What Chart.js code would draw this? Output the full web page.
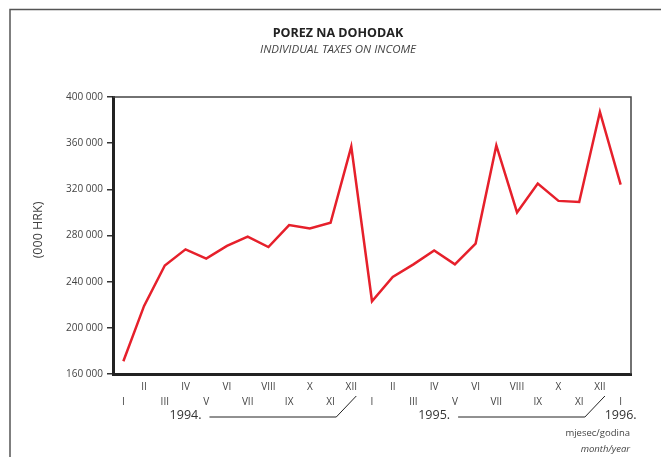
<!DOCTYPE html>
<html><head><meta charset="utf-8">
<script src="https://cdn.jsdelivr.net/npm/chart.js@4/dist/chart.umd.min.js"></script>
<style>html,body{margin:0;padding:0;background:#fff}#wrap{width:661px;height:457px;position:relative}</style>
</head><body><div id="wrap"><canvas id="c" width="661" height="457"></canvas></div>
<script>
// ---- data ----
const months = ['I','II','III','IV','V','VI','VII','VIII','IX','X','XI','XII',
                'I','II','III','IV','V','VI','VII','VIII','IX','X','XI','XII','I'];
const values = [171000, 219000, 254000, 268000, 260000, 271000, 279000, 270000, 289000, 286000, 291000, 357000,
                223000, 244000, 255000, 267000, 255000, 273000, 358000, 300000, 325000, 310000, 309000, 387000, 324000];
const years = ['1994.', '1995.', '1996.'];
const yTicks = [160000, 200000, 240000, 280000, 320000, 360000, 400000];
const titleMain = 'POREZ NA DOHODAK';
const titleSub = 'INDIVIDUAL TAXES ON INCOME';
const yTitle = '(000 HRK)';
const xTitleMain = 'mjesec/godina';
const xTitleSub = 'month/year';

const FONT = '"Open Sans", "Liberation Sans", sans-serif';

const fmt = v => String(v).replace(/\B(?=(\d{3})+(?!\d))/g, ' ');

const decor = {
  id: 'decor',
  afterDraw(chart) {
    const ctx = chart.ctx, a = chart.chartArea, xs = chart.scales.x;
    ctx.save();
    // outer frame
    ctx.strokeStyle = '#555'; ctx.lineWidth = 1.5;
    ctx.beginPath(); ctx.moveTo(10, 457); ctx.lineTo(10, 9.5); ctx.lineTo(661, 9.5); ctx.stroke();
    // plot frame top/right
    ctx.strokeStyle = '#444'; ctx.lineWidth = 1.5;
    ctx.beginPath(); ctx.moveTo(a.left, a.top); ctx.lineTo(a.right, a.top); ctx.lineTo(a.right, a.bottom); ctx.stroke();
    // titles
    ctx.fillStyle = '#222'; ctx.textAlign = 'center'; ctx.textBaseline = 'middle';
    ctx.font = 'bold 12.5px ' + FONT;
    ctx.fillText(titleMain, 338, 33);
    ctx.fillStyle = '#444';
    ctx.font = 'italic 11.5px ' + FONT;
    ctx.fillText(titleSub, 338, 50);
    // y title
    ctx.save();
    ctx.translate(38, 230); ctx.rotate(-Math.PI / 2);
    ctx.font = '12.5px ' + FONT; ctx.fillStyle = '#444';
    ctx.fillText(yTitle, 0, 0);
    ctx.restore();
    // year labels & connectors
    const starts = [];
    months.forEach((m, i) => { if (m === 'I') starts.push(i); });
    ctx.font = '12.5px ' + FONT; ctx.fillStyle = '#333';
    ctx.strokeStyle = '#222'; ctx.lineWidth = 1;
    const yy = 415;
    starts.forEach((s, k) => {
      const endIdx = months.indexOf('XII', s);
      ctx.textAlign = 'center';
      if (endIdx >= 0 && endIdx - s === 11) {
        const cx = xs.getPixelForValue(s + 3);
        ctx.fillText(years[k], cx, yy);
        const w = ctx.measureText(years[k]).width;
        const xe = xs.getPixelForValue(endIdx);
        ctx.beginPath();
        ctx.moveTo(cx + w / 2 + 8, yy + 2);
        ctx.lineTo(xe - 15, yy + 2);
        ctx.lineTo(xe + 5, 396);
        ctx.stroke();
      } else {
        ctx.fillText(years[k], xs.getPixelForValue(s), yy);
      }
    });
    // x title
    ctx.textAlign = 'right';
    ctx.fillStyle = '#444';
    ctx.font = '9.5px ' + FONT;
    ctx.fillText(xTitleMain, 630, 433);
    ctx.font = 'italic 9.5px ' + FONT;
    ctx.fillText(xTitleSub, 630, 449);
    ctx.restore();
  }
};

new Chart(document.getElementById('c'), {
  type: 'line',
  data: {
    labels: months,
    datasets: [{
      data: values,
      borderColor: '#e6202b',
      borderWidth: 2.5,
      pointRadius: 0,
      tension: 0,
      fill: false
    }]
  },
  options: {
    responsive: false,
    animation: false,
    devicePixelRatio: 1,
    layout: { padding: { top: 97, right: 30, left: 0, bottom: 0 } },
    plugins: { legend: { display: false }, tooltip: { enabled: false }, title: { display: false } },
    scales: {
      x: {
        type: 'category',
        offset: true,
        grid: { display: false },
        border: { display: true, width: 3, color: '#222' },
        ticks: {
          autoSkip: false, maxRotation: 0, minRotation: 0,
          padding: -2.5,
          color: '#444',
          font: { family: FONT, size: 10, lineHeight: 1.5 },
          callback: (v, i) => (i % 2 === 0 ? ['', months[i]] : [months[i]])
        },
        afterFit: s => { s.height = 83; }
      },
      y: {
        min: 160000, max: 400000,
        afterBuildTicks: s => { s.ticks = yTicks.map(v => ({ value: v })); },
        grid: { drawOnChartArea: false, drawTicks: true, tickLength: 6, color: '#333', lineWidth: 1.5 },
        border: { display: true, width: 3, color: '#222' },
        ticks: {
          padding: 4,
          color: '#444',
          font: { family: FONT, size: 10 },
          callback: v => fmt(v)
        },
        afterFit: s => { s.width = 113; }
      }
    }
  },
  plugins: [decor]
});
</script>
</body></html>
